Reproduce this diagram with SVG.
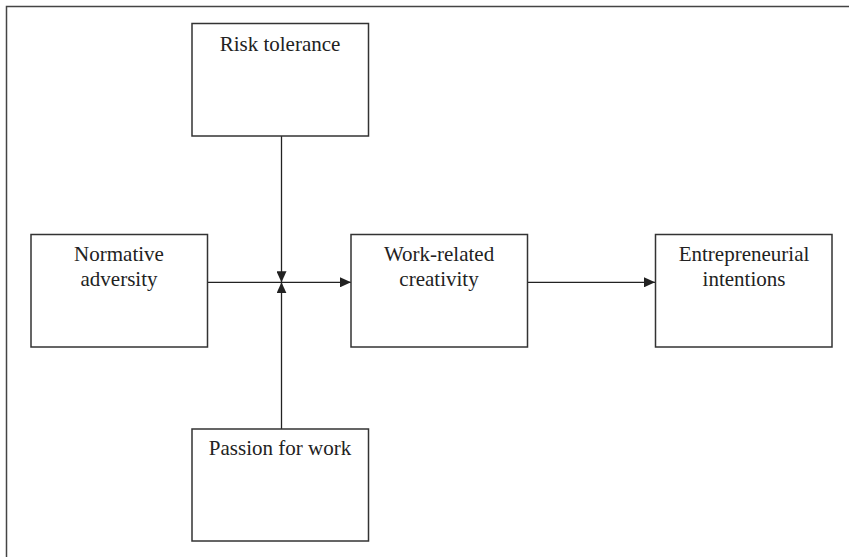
<svg xmlns="http://www.w3.org/2000/svg" width="849" height="557" viewBox="0 0 849 557">
<style>
.box{fill:#fff;stroke:#333;stroke-width:1.5}
.lbl{font-family:"Liberation Serif","Times New Roman",serif;font-size:21px;fill:#222;text-anchor:middle}
.ln{stroke:#222;stroke-width:1.3;fill:none}
.frame{stroke:#444;stroke-width:1.5;fill:none}
</style>
<defs>
<marker id="ah" viewBox="0 0 11 10" refX="11" refY="5" markerWidth="11" markerHeight="10" markerUnits="userSpaceOnUse" orient="auto">
<path d="M0,0 L11,5 L0,10 Z" fill="#222"/>
</marker>
</defs>
<rect width="849" height="557" fill="#fff"/>
<path class="frame" d="M6.5,557 V6.5 H849"/>
<g id="connectors">
<line class="ln" x1="207" y1="282.3" x2="351" y2="282.3" marker-end="url(#ah)"/>
<line class="ln" x1="281.5" y1="136" x2="281.5" y2="282.3" marker-end="url(#ah)"/>
<line class="ln" x1="281.5" y1="429" x2="281.5" y2="282.3" marker-end="url(#ah)"/>
<line class="ln" x1="528" y1="282.3" x2="655" y2="282.3" marker-end="url(#ah)"/>
</g>
<g id="risk">
<rect class="box" x="192" y="23.5" width="176.5" height="112.5"/>
<text class="lbl" x="280" y="51">Risk tolerance</text>
</g>
<g id="normative">
<rect class="box" x="31" y="234.5" width="176.5" height="112.5"/>
<text class="lbl" x="119" y="261">Normative</text>
<text class="lbl" x="119" y="286">adversity</text>
</g>
<g id="creativity">
<rect class="box" x="351" y="234.5" width="176.5" height="112.5"/>
<text class="lbl" x="439" y="261">Work-related</text>
<text class="lbl" x="439" y="286">creativity</text>
</g>
<g id="intentions">
<rect class="box" x="655.5" y="234.5" width="176.5" height="112.5"/>
<text class="lbl" x="744" y="261">Entrepreneurial</text>
<text class="lbl" x="744" y="286">intentions</text>
</g>
<g id="passion">
<rect class="box" x="192" y="429" width="176.5" height="112"/>
<text class="lbl" x="280" y="455">Passion for work</text>
</g>
</svg>
